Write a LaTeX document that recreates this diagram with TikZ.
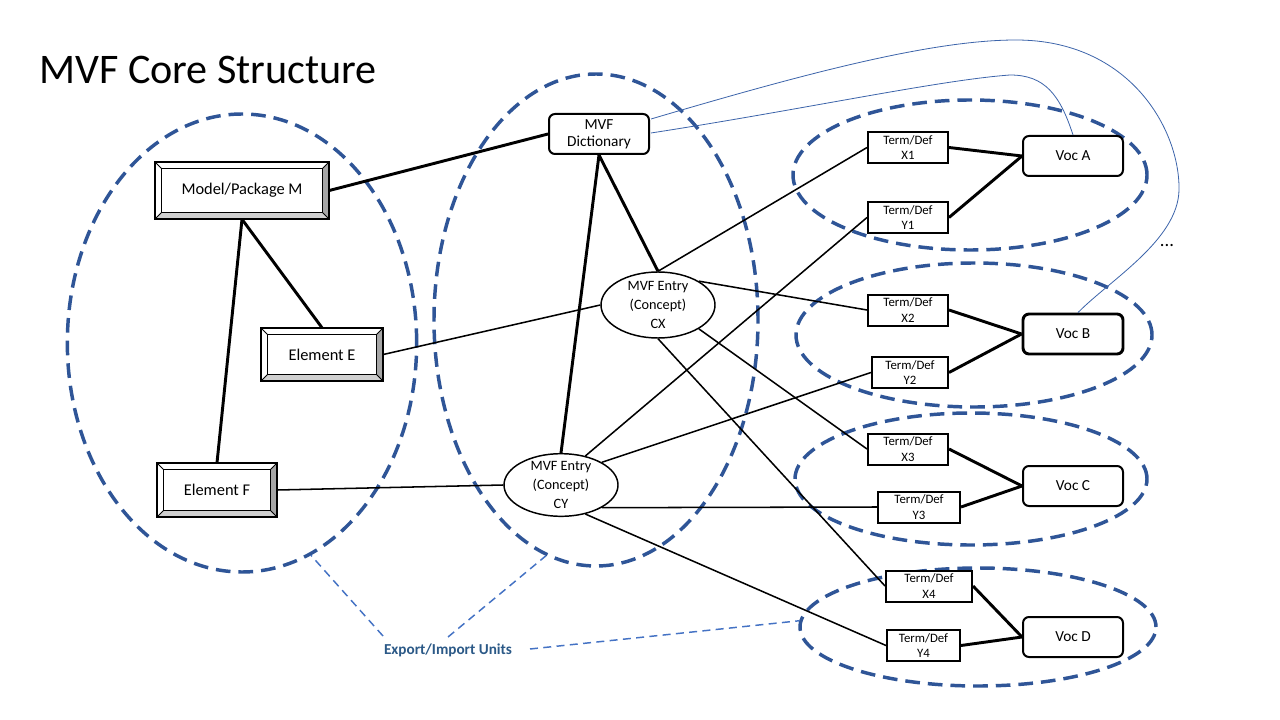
\documentclass[tikz,border=0pt]{standalone}
\usepackage{fontspec}
\setmainfont{Carlito}
\usetikzlibrary{shapes.geometric,calc}
\definecolor{unitblue}{HTML}{2F5597}
\definecolor{linkblue}{HTML}{4472C4}
\definecolor{curveblue}{HTML}{3C64AA}
\definecolor{labelblue}{HTML}{2B5987}
\definecolor{bevdark}{HTML}{A6A6A6}
\definecolor{bevlight}{HTML}{D0D0D0}
\def\bd{5.25pt}
\newcommand\bevelframe[1]{%
  \fill[bevdark] (#1.north east) -- (#1.south east) -- ($(#1.south east)+(-\bd,\bd)$) -- ($(#1.north east)+(-\bd,-\bd)$) -- cycle;
  \fill[bevlight] (#1.south west) -- (#1.south east) -- ($(#1.south east)+(-\bd,\bd)$) -- ($(#1.south west)+(\bd,\bd)$) -- cycle;
  \draw[line width=0.6pt] (#1.north west) -- ++(\bd,-\bd) (#1.north east) -- ++(-\bd,-\bd) (#1.south west) -- ++(\bd,\bd) (#1.south east) -- ++(-\bd,\bd);
  \draw[line width=1.1pt] ($(#1.north west)+(\bd,-\bd)$) rectangle ($(#1.south east)+(-\bd,\bd)$);
  \draw[line width=1.2pt] (#1.north west) rectangle (#1.south east);
}
\begin{document}
\begin{tikzpicture}[x=0.75pt,y=-0.75pt,
  unit/.style={draw=unitblue, line width=2.6pt, dash pattern=on 11pt off 6pt, ellipse, inner sep=0pt},
  bevbox/.style={fill=white, rectangle, inner sep=0pt, font=\fontsize{12.3}{14}\selectfont},
  entry/.style={ellipse, draw, line width=1.1pt, fill=white, inner sep=0pt, minimum width=85.5pt},
  entrytext/.style={align=center, font=\fontsize{10.7}{14}\selectfont, inner sep=0pt},
  dict/.style={draw, line width=1.5pt, rounded corners=4.5pt, fill=white, minimum width=75pt, minimum height=30pt, align=center, inner sep=0pt},
  voc/.style={dict, font=\fontsize{11.5}{13}\selectfont},
  term/.style={draw, line width=1.5pt, fill=white, minimum height=23.25pt, inner sep=0pt, align=center, font=\fontsize{9.6}{11.5}\selectfont},
  heavy/.style={line width=2.2pt},
  light/.style={line width=1.15pt},
  link/.style={draw=linkblue, line width=1.1pt, dash pattern=on 6pt off 4pt},
  curve/.style={draw=curveblue, line width=0.6pt}
]
\useasboundingbox[fill=white] (0,0) rectangle (1280,720);

% title
\node[anchor=base west, font=\fontsize{31.6}{36}\selectfont, inner sep=0pt] (title) at (39,84) {MVF Core Structure};

% export/import units
\node[unit, minimum width=262pt, minimum height=343.5pt] (U1) at (242,343) {};
\node[unit, minimum width=243pt, minimum height=369pt] (U2) at (596,320) {};
\node[unit, minimum width=265.5pt, minimum height=112.5pt] (UA) at (970,175) {};
\node[unit, minimum width=267pt, minimum height=108pt] (UB) at (974,335) {};
\node[unit, minimum width=264pt, minimum height=99pt] (UC) at (971,479) {};
\node[unit, minimum width=267pt, minimum height=88.5pt] (UD) at (978,627) {};

% model elements
\node[bevbox, minimum width=130.5pt, minimum height=42.75pt] (M) at (242,190.5) {Model/Package M};
\node[bevbox, minimum width=91.5pt, minimum height=39.75pt] (E) at (322,354.5) {Element E};
\node[bevbox, minimum width=90pt, minimum height=40.5pt] (F) at (217,490) {Element F};
\bevelframe{M}
\bevelframe{E}
\bevelframe{F}

% dictionary and entries
\node[dict, font=\fontsize{11.5}{12.5}\selectfont] (Dict) at (599,134) {MVF\\Dictionary};
\node[entry, minimum height=49.5pt, label={[entrytext]center:MVF Entry\\(Concept)\\CX}] (CX) at (658,305) {};
\node[entry, minimum height=47pt, label={[entrytext]center:MVF Entry\\(Concept)\\CY}] (CY) at (561,485) {};

% terms
\node[term, minimum width=60pt] (X1) at (908,147.5) {Term/Def\\X1};
\node[term, minimum width=60pt] (Y1) at (908,217.5) {Term/Def\\Y1};
\node[term, minimum width=60pt] (X2) at (908,310) {Term/Def\\X2};
\node[term, minimum width=57pt] (Y2) at (910,372.5) {Term/Def\\Y2};
\node[term, minimum width=60pt] (X3) at (908,449) {Term/Def\\X3};
\node[term, minimum width=61.5pt] (Y3) at (919,507) {Term/Def\\Y3};
\node[term, minimum width=64.5pt] (X4) at (929,586) {Term/Def\\X4};
\node[term, minimum width=54.75pt] (Y4) at (923.5,645.5) {Term/Def\\Y4};

% vocabularies
\node[voc] (VA) at (1073,156) {Voc A};
\node[voc, line width=2.2pt] (VB) at (1073,334) {Voc B};
\node[voc] (VC) at (1073,486) {Voc C};
\node[voc] (VD) at (1073,637) {Voc D};

% heavy connectors
\draw[heavy] (M.east) -- (Dict.west);
\draw[heavy] (M.south) -- (E.north);
\draw[heavy] (M.south) -- (F.north);
\draw[heavy] (Dict.south) -- (CX.north);
\draw[heavy] (Dict.south) -- (CY.north);
\draw[heavy] (X1.east) -- (VA.west);
\draw[heavy] (Y1.east) -- (VA.west);
\draw[heavy] (X2.east) -- (VB.west);
\draw[heavy] (Y2.east) -- (VB.west);
\draw[heavy] (X3.east) -- (VC.west);
\draw[heavy] (Y3.east) -- (VC.west);
\draw[heavy] (X4.east) -- (VD.west);
\draw[heavy] (Y4.east) -- (VD.west);

% light connectors
\draw[light] (E.east) -- (CX.west);
\draw[light] (F.east) -- (CY.west);
\draw[light] (CX.north) -- (X1.west);
\draw[light] (CX.north east) -- (X2.west);
\draw[light] (CX.south east) -- (X3.west);
\draw[light] (CX.south) -- (X4.west);
\draw[light] (CY.50) -- (Y1.west);
\draw[light] (CY.north east) -- (Y2.west);
\draw[light] (CY.south east) -- (Y3.west);
\draw[light] (CY.-50) -- (Y4.west);

% blue curves
\draw[curve] ($(Dict.east)+(1,-15)$) .. controls (800,75) and (930,40) .. (1016,40)
  .. controls (1130,40) and (1180,130) .. (1179,190)
  .. controls (1178,240) and (1110,280) .. ($(VB.north)+(5,0)$);
\draw[curve] ($(Dict.east)+(1,-1)$) .. controls (800,110) and (940,80) .. (1010,75)
  .. controls (1045,75) and (1060,95) .. (VA.north);

\node[font=\fontsize{14}{16}\selectfont] (dots) at (1167,246) {...};

% label
\node[font=\bfseries\fontsize{11.4}{13}\selectfont, text=labelblue, inner sep=0pt] (lbl) at (448,650) {Export/Import Units};
\coordinate (e1) at (383,636);
\coordinate (e2) at (448,637);
\coordinate (e3) at (530,649);
\draw[link] (e1) -- (U1.-72);
\draw[link] (e2) -- (U2.-102);
\draw[link] (e3) -- (UD.178);
\end{tikzpicture}
\end{document}
